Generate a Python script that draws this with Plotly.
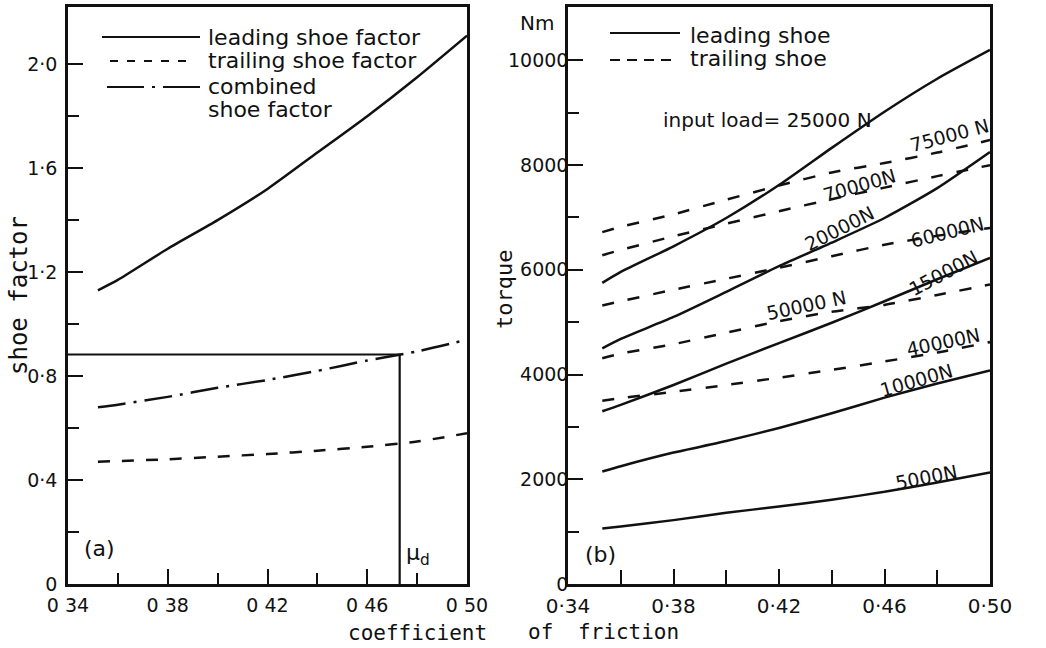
import plotly.graph_objects as go

W, H = 1046, 648
INK = "#111111"
SANS = "DejaVu Sans"
MONO = "DejaVu Sans Mono"

# ---------------- (a) shoe factors ----------------
mu_a = [0.352, 0.36, 0.38, 0.40, 0.42, 0.44, 0.46, 0.48, 0.50]
leading_factor = [1.13, 1.17, 1.29, 1.40, 1.52, 1.66, 1.80, 1.95, 2.11]
trailing_factor = [0.47, 0.473, 0.48, 0.49, 0.50, 0.513, 0.528, 0.548, 0.58]
combined_factor = [0.68, 0.69, 0.72, 0.755, 0.785, 0.82, 0.86, 0.895, 0.94]
mu_d = 0.473
factor_at_mu_d = 0.883

a_xticks = [0.34, 0.38, 0.42, 0.46, 0.50]
a_xticktext = ["0 34", "0 38", "0 42", "0 46", "0 50"]
a_yticks = [0, 0.4, 0.8, 1.2, 1.6, 2.0]
a_yticktext = ["0", "0·4", "0·8", "1·2", "1·6", "2·0"]

# ---------------- (b) torque ----------------
mu_b = [0.353, 0.36, 0.38, 0.40, 0.42, 0.44, 0.46, 0.48, 0.50]
leading_5000 = [1060, 1100, 1220, 1360, 1480, 1610, 1760, 1940, 2130]
leading_10000 = [2150, 2250, 2510, 2730, 2980, 3260, 3560, 3830, 4080]
leading_15000 = [3300, 3420, 3800, 4210, 4600, 4990, 5400, 5820, 6230]
leading_20000 = [4500, 4680, 5100, 5580, 6070, 6520, 6990, 7560, 8250]
leading_25000 = [5750, 5960, 6450, 6990, 7620, 8330, 9020, 9650, 10200]
trailing_40000 = [3500, 3550, 3670, 3800, 3940, 4090, 4250, 4420, 4620]
trailing_50000 = [4310, 4400, 4580, 4800, 5020, 5200, 5330, 5520, 5720]
trailing_60000 = [5320, 5400, 5620, 5830, 6040, 6260, 6480, 6650, 6800]
trailing_70000 = [6280, 6380, 6640, 6880, 7120, 7350, 7570, 7790, 8000]
trailing_75000 = [6720, 6820, 7060, 7340, 7610, 7860, 8040, 8240, 8480]

b_xticks = [0.34, 0.38, 0.42, 0.46, 0.50]
b_xticktext = ["0·34", "0·38", "0·42", "0·46", "0·50"]
b_yticks = [0, 2000, 4000, 6000, 8000, 10000]
b_yticktext = ["0", "2000", "4000", "6000", "8000", "10000"]

fig = go.Figure()


def curve(x, y, dash, xa, ya, width=2.5):
    fig.add_trace(go.Scatter(
        x=x, y=y, mode="lines", xaxis=xa, yaxis=ya,
        line=dict(color=INK, width=width, dash=dash, shape="spline", smoothing=0.6),
        showlegend=False, hoverinfo="skip"))


DASH_A = "12px,12px"
DASHDOT_A = "28px,8px,3px,8px"
DASH_B = "12px,14px"

curve(mu_a, leading_factor, "solid", "x", "y")
curve(mu_a, trailing_factor, DASH_A, "x", "y")
curve(mu_a, combined_factor, DASHDOT_A, "x", "y")
# design coefficient marker: horizontal from the axis, then down to zero
fig.add_trace(go.Scatter(
    x=[a_xticks[0], mu_d, mu_d], y=[factor_at_mu_d, factor_at_mu_d, 0],
    mode="lines", xaxis="x", yaxis="y",
    line=dict(color=INK, width=2.2), showlegend=False, hoverinfo="skip"))

for ys in (leading_5000, leading_10000, leading_15000, leading_20000, leading_25000):
    curve(mu_b, ys, "solid", "x2", "y2")
for ys in (trailing_40000, trailing_50000, trailing_60000, trailing_70000, trailing_75000):
    curve(mu_b, ys, DASH_B, "x2", "y2")

axis_common = dict(
    showline=True, mirror=True, linewidth=2.5, linecolor=INK,
    ticks="inside", ticklen=15, tickwidth=2, tickcolor=INK,
    showgrid=False, zeroline=False, fixedrange=True, automargin=False,
    tickfont=dict(family=SANS, size=19, color=INK),
)

y_dom = [1 - 584 / H, 1 - 7 / H]

fig.update_layout(
    width=W, height=H,
    margin=dict(l=0, r=0, t=0, b=0, autoexpand=False),
    paper_bgcolor="white", plot_bgcolor="white",
    xaxis=dict(axis_common, domain=[68 / W, 467 / W], range=[0.34, 0.50], anchor="y",
               tickmode="array", tickvals=a_xticks, ticktext=a_xticktext,
               ticklabelstandoff=2,
               minor=dict(tickmode="array", tickvals=[0.36, 0.40, 0.44, 0.48],
                          ticks="inside", ticklen=11, tickwidth=2, tickcolor=INK)),
    yaxis=dict(axis_common, domain=y_dom, range=[0, 2.22], anchor="x",
               tickmode="array", tickvals=a_yticks, ticktext=a_yticktext,
               ticklabelstandoff=4,
               minor=dict(tickmode="array", tickvals=[0.2, 0.6, 1.0, 1.4, 1.8],
                          ticks="inside", ticklen=11, tickwidth=2, tickcolor=INK)),
    xaxis2=dict(axis_common, domain=[568 / W, 990 / W], range=[0.34, 0.50], anchor="y2",
                tickmode="array", tickvals=b_xticks, ticktext=b_xticktext,
                ticklabelstandoff=2,
                tickfont=dict(family=SANS, size=20, color=INK),
                minor=dict(tickmode="array", tickvals=[0.36, 0.40, 0.44, 0.48],
                           ticks="inside", ticklen=14, tickwidth=2, tickcolor=INK)),
    yaxis2=dict(axis_common, domain=y_dom, range=[0, 11020], anchor="x2",
                tickmode="array", tickvals=b_yticks, ticktext=b_yticktext,
                ticklabelstandoff=-7,
                minor=dict(tickmode="array", tickvals=[1000, 3000, 5000, 7000, 9000],
                           ticks="inside", ticklen=11, tickwidth=2, tickcolor=INK)),
)


def px(xp):
    return xp / W


def py(yp):
    return 1 - yp / H


shapes = []


def key_line(x0, x1, y, dash):
    shapes.append(dict(type="line", xref="paper", yref="paper",
                       x0=px(x0), x1=px(x1), y0=py(y), y1=py(y),
                       line=dict(color=INK, width=2.2, dash=dash)))


# legend keys, panel (a)
key_line(102, 200, 37, "solid")
key_line(110, 194, 61, "8px,9px")
key_line(107, 200, 87, "37px,8px,3px,8px")
# legend keys, panel (b)
key_line(610, 680, 33, "solid")
key_line(610, 673, 60, "10px,7px")
fig.update_layout(shapes=shapes)

ann = []


def text_px(x, y, s, size=22, xanchor="left", angle=0, family=SANS):
    ann.append(dict(xref="paper", yref="paper", x=px(x), y=py(y), text=s,
                    showarrow=False, xanchor=xanchor, yanchor="middle",
                    textangle=angle, font=dict(family=family, size=size, color=INK)))


def text_data(xa, ya, x, y, s, size=19, angle=0, xanchor="center"):
    ann.append(dict(xref=xa, yref=ya, x=x, y=y, text=s, showarrow=False,
                    xanchor=xanchor, yanchor="middle", textangle=angle,
                    font=dict(family=SANS, size=size, color=INK)))


# legend text
text_px(206, 37, "leading shoe factor", size=22)
text_px(206, 61, "trailing shoe factor", size=22)
text_px(206, 86, "combined", size=22)
text_px(206, 110, "shoe factor", size=22)
text_px(688, 35, "leading shoe")
text_px(688, 59, "trailing shoe")

# axis titles
text_px(19, 296, "shoe factor", size=24, xanchor="center", angle=-90, family=MONO)
text_px(504, 290, "torque", size=22, xanchor="center", angle=-90, family=MONO)
text_px(537, 23, "Nm", size=20, xanchor="center")
text_px(417, 633, "coefficient", size=21, xanchor="center", family=MONO)
text_px(540, 632, "of", size=21, xanchor="center", family=MONO)
text_px(628, 632, "friction", size=21, xanchor="center", family=MONO)

# panel (a) annotations
text_data("x", "y", 0.3525, 0.138, "(a)", size=22)
text_data("x", "y", 0.4805, 0.115, "μ<sub>d</sub>", size=22)

# panel (b) annotations
text_data("x2", "y2", 0.3525, 560, "(b)", size=22)
text_data("x2", "y2", 0.4158, 8862, "input load= 25000 N", size=20)
text_data("x2", "y2", 0.4848, 8575, "75000 N", angle=-15)
text_data("x2", "y2", 0.4507, 7620, "70000N", angle=-16)
text_data("x2", "y2", 0.4431, 6800, "20000N", angle=-27)
text_data("x2", "y2", 0.4837, 6720, "60000N", angle=-14)
text_data("x2", "y2", 0.4822, 5940, "15000N", angle=-28)
text_data("x2", "y2", 0.4306, 5330, "50000 N", angle=-12)
text_data("x2", "y2", 0.4822, 4620, "40000N", angle=-12)
text_data("x2", "y2", 0.4723, 3896, "10000N", angle=-16)
text_data("x2", "y2", 0.4761, 2044, "5000N", angle=-11)

fig.update_layout(annotations=ann)

fig.write_html("out.html", config={"displayModeBar": False})
